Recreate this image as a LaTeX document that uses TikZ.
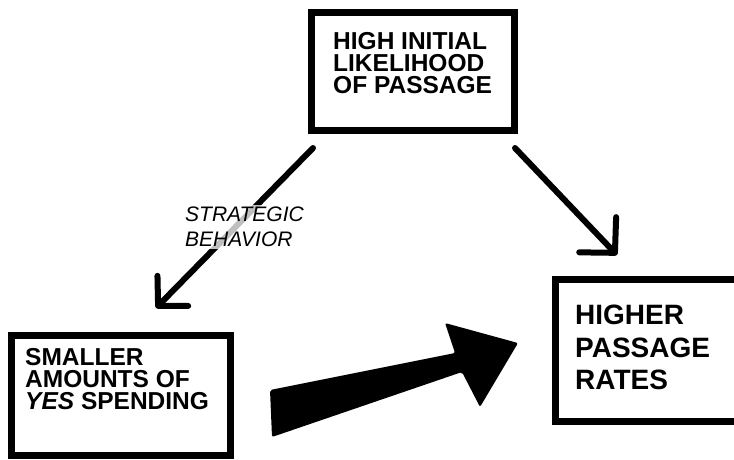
\documentclass[tikz,border=0pt]{standalone}
\usepackage{fontspec}
\setmainfont{Liberation Sans}
\usetikzlibrary{arrows.meta}
\begin{document}
\begin{tikzpicture}[x=1pt,y=-1pt,
  box/.style={draw=black, line width=7pt, inner sep=0pt},
  boxtext/.style={anchor=north west, inner sep=0pt, align=left,
    font=\bfseries\fontsize{24.5}{22}\selectfont},
  conn/.style={line width=6pt, line cap=round, line join=round},
  headA/.style={-{Straight Barb[length=21pt,width=43pt,round]}},
  headB/.style={-{Straight Barb[length=25pt,width=51pt,round]}},
  cue/.style={fill=white, fill opacity=0.75, text opacity=1, inner sep=2pt,
    anchor=north west, align=left, font=\itshape\fontsize{21}{25}\selectfont}]
\useasboundingbox (0,0) rectangle (734,459);
\clip (0,0) rectangle (734,459);

% the three boxes
\node[box, minimum width=203pt, minimum height=118pt] (top) at (413,71.5) {};
\node[box, minimum width=218.5pt, minimum height=120pt] (left) at (120.75,395.5) {};
\node[box, minimum width=190pt, minimum height=142pt] (right) at (650,350.5) {};

% box texts
\node[boxtext] (toptext) at (333,32) {HIGH INITIAL\\LIKELIHOOD\\OF PASSAGE};
\node[boxtext] (lefttext) at (25,348) {SMALLER\\AMOUNTS OF\\\textit{YES} SPENDING};
\node[boxtext, font=\bfseries\fontsize{28}{32.3}\selectfont] (righttext) at (575,305)
  {HIGHER\\PASSAGE\\RATES};

% thin arrows leaving the top box
\coordinate (a1s) at (313,148);
\coordinate (a1e) at (156,308);
\coordinate (a2s) at (515,148);
\coordinate (a2e) at (617,255);
\draw[conn, headA] (a1s) -- (a1e);
\draw[conn, headB] (a2s) -- (a2e);

% label over the left arrow
\node[cue] (strategic) at (183,205) {STRATEGIC\\BEHAVIOR};

% heavy block arrow from the left box to the right box
\fill[black, rounded corners=2pt] (270,390) -- (455,353) -- (445,323) -- (518,343)
  -- (480,407) -- (462,372) -- (272,437) -- cycle;
\end{tikzpicture}
\end{document}
